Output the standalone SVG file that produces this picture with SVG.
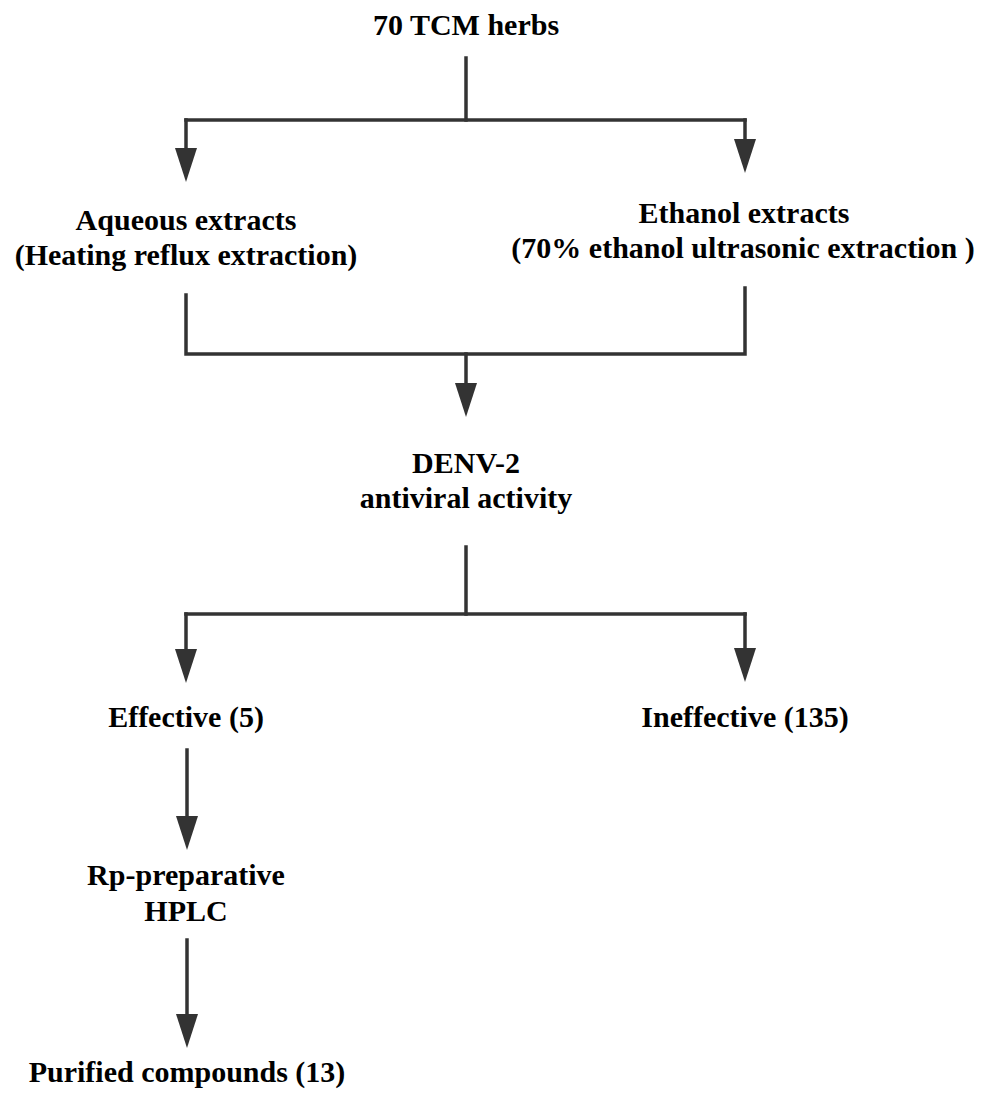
<svg xmlns="http://www.w3.org/2000/svg" width="985" height="1095" viewBox="0 0 985 1095">
<style>
  text { font-family: "Liberation Serif", "Times New Roman", serif; font-weight: bold; font-size: 30px; fill: #000; text-anchor: middle; }
  .conn { fill: none; stroke: #333; stroke-width: 3.5; stroke-linejoin: miter; stroke-linecap: square; }
  .arr { marker-end: url(#ah); }
</style>
<defs>
  <marker id="ah" markerUnits="userSpaceOnUse" viewBox="0 0 34 22" markerWidth="34" markerHeight="22" refX="24" refY="11" orient="auto">
    <path d="M0,0 L34,11 L0,22 z" fill="#333"/>
  </marker>
</defs>
<rect width="985" height="1095" fill="#fff"/>
<g id="connectors">
  <path class="conn" d="M466,58 V120"/>
  <path class="conn" d="M186,120 H745"/>
  <path class="conn arr" d="M186,120 V172"/>
  <path class="conn arr" d="M745,120 V163"/>
  <path class="conn" d="M186,295 V354 H745 V288"/>
  <path class="conn arr" d="M466,354 V407"/>
  <path class="conn" d="M466,547 V614"/>
  <path class="conn" d="M186,614 H745"/>
  <path class="conn arr" d="M186,614 V673"/>
  <path class="conn arr" d="M745,614 V672"/>
  <path class="conn arr" d="M187,750 V840"/>
  <path class="conn arr" d="M187,940 V1038"/>
</g>
<g id="n-herbs"><text x="466" y="35">70 TCM herbs</text></g>
<g id="n-aqueous"><text x="186" y="230">Aqueous extracts</text><text x="186" y="265">(Heating reflux extraction)</text></g>
<g id="n-ethanol"><text x="744" y="223">Ethanol extracts</text><text x="743" y="258">(70% ethanol ultrasonic extraction )</text></g>
<g id="n-denv"><text x="466" y="473">DENV-2</text><text x="466" y="508">antiviral activity</text></g>
<g id="n-effective"><text x="186" y="727">Effective (5)</text></g>
<g id="n-ineffective"><text x="745" y="727">Ineffective (135)</text></g>
<g id="n-hplc"><text x="186" y="885">Rp-preparative</text><text x="186" y="921">HPLC</text></g>
<g id="n-purified"><text x="187" y="1082">Purified compounds (13)</text></g>
</svg>
